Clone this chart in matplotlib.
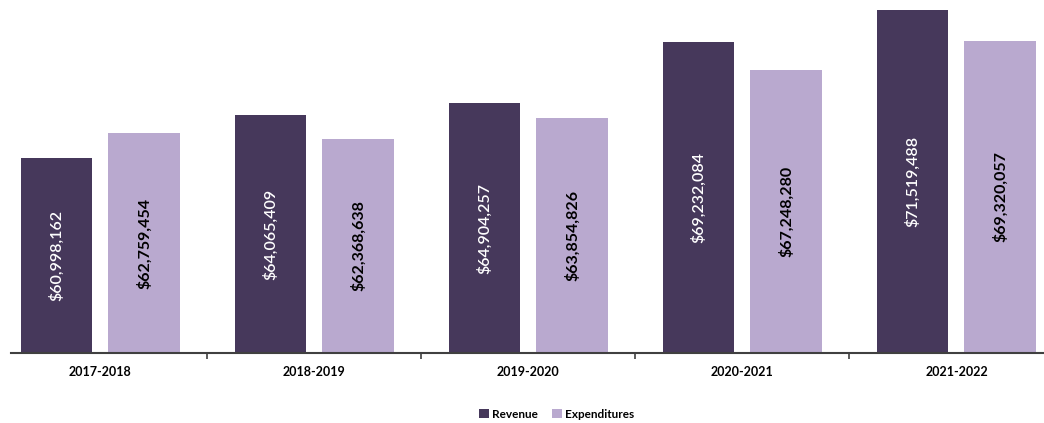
import numpy as np
import matplotlib
matplotlib.use("Agg")
import matplotlib.pyplot as plt

# fiscal years and totals
years = ["2017-2018", "2018-2019", "2019-2020", "2020-2021", "2021-2022"]
revenue = [60998162, 64065409, 64904257, 69232084, 71519488]
expenditures = [62759454, 62368638, 63854826, 67248280, 69320057]

rev_color = "#46385b"
exp_color = "#b9a9cf"

plt.rcParams["font.family"] = ["Lato", "DejaVu Sans"]

fig = plt.figure(figsize=(10.44, 4.23), dpi=100)
ax = fig.add_axes([11 / 1044, 70 / 423, 1033 / 1044, 350 / 423])

x = np.arange(len(years))
ymin, ymax = 47.2e6, 72e6
w = 0.335

ax.bar(x - 0.205, revenue, w, color=rev_color, label="Revenue")
ax.bar(x + 0.205, expenditures, w, color=exp_color, label="Expenditures")

# values written vertically in the middle of each bar
for xi, r, e in zip(x, revenue, expenditures):
    ax.text(xi - 0.205, (ymin + r) / 2, f"${r:,}", rotation=90,
            ha="center", va="center", color="white", fontsize=11.5,
            fontweight="semibold")
    ax.text(xi + 0.205, (ymin + e) / 2, f"${e:,}", rotation=90,
            ha="center", va="center", color="black", fontsize=11.5,
            fontweight="bold")

ax.set_ylim(ymin, ymax)
ax.set_xlim(-0.418, 4.409)

ax.set_xticks(x)
ax.set_xticklabels(years, fontsize=9, fontweight="bold")
ax.set_xticks(x[:-1] + 0.5, minor=True)
ax.tick_params(axis="x", which="major", length=0, pad=9)
ax.tick_params(axis="x", which="minor", length=4, width=1.2, color="#404040")
ax.set_yticks([])

for s in ["top", "right", "left"]:
    ax.spines[s].set_visible(False)
ax.spines["bottom"].set_color("#404040")
ax.spines["bottom"].set_linewidth(1.5)

fig.legend(loc="center", bbox_to_anchor=(557 / 1044, 9 / 423), ncol=2,
           frameon=False, handlelength=0.8, handleheight=0.8,
           handletextpad=0.3, columnspacing=1.2,
           prop={"weight": "bold", "size": 8.5})

fig.savefig("out.png", dpi=100)
